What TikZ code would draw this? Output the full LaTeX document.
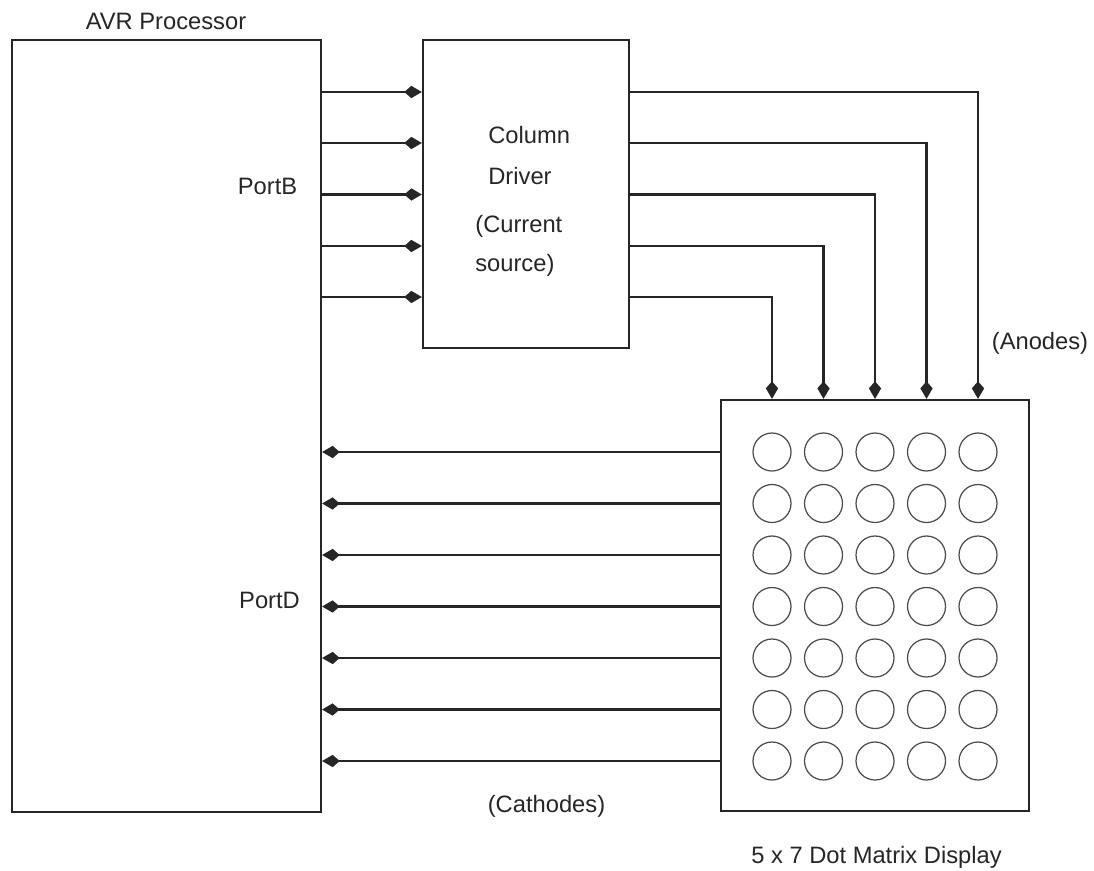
\documentclass[tikz,border=0pt]{standalone}
\usepackage{fontspec}
\setmainfont{Liberation Sans}
\usetikzlibrary{arrows.meta,positioning,calc}
\tikzset{
  blk/.style={draw=black!85, line width=1.3pt, rectangle, inner sep=0pt},
  wire/.style={-{Kite[length=10pt,width=7pt,inset=4pt]}, line width=1.3pt, color=black!85},
  dot/.style={draw=black!70, circle, minimum size=0.76cm, inner sep=0pt, line width=0.7pt},
  note/.style={font=\fontsize{13.5}{16}\selectfont, text=black!85},
}
\begin{document}
\begin{tikzpicture}[x=0.02cm,y=-0.02cm]
  \useasboundingbox (0,0) rectangle (1094,871);
  % blocks
  \node[blk, minimum width=6.18cm, minimum height=15.44cm] (avr) at (166.5,426) {};
  \node[blk, minimum width=4.12cm, minimum height=6.16cm] (drv) at (526,194) {};
  \node[blk, minimum width=6.16cm, minimum height=8.22cm] (disp) at (875,605.5) {};
  % rows and columns
  \foreach \i/\y in {1/92,2/143,3/194.5,4/246,5/297}
    \coordinate (r\i) at (0,\y);
  \foreach \c/\x in {1/772,2/823.5,3/875,4/926.5,5/978}
    \coordinate (c\c) at (\x,0);
  \foreach \k/\y in {1/452,2/503.5,3/555,4/606.5,5/658,6/709.5,7/761}
    \coordinate (k\k) at (0,\y);
  % LED matrix
  \foreach \c in {1,...,5}
    \foreach \k in {1,...,7}
      \node[dot] (d\c\k) at (c\c |- k\k) {};
  % PortB -> driver -> anodes
  \foreach \i in {1,...,5} {
    \pgfmathtruncatemacro{\col}{6-\i}
    \draw[wire] (avr.east |- r\i) -- (drv.west |- r\i);
    \draw[wire] (drv.east |- r\i) -| (disp.north -| c\col);
  }
  % cathodes -> PortD
  \foreach \k in {1,...,7}
    \draw[wire] (disp.west |- k\k) -- (avr.east |- k\k);
  % labels
  \node[note] (avrlbl) at (166,21) {AVR Processor};
  \node[note] (portb) at (267.5,186) {PortB};
  \node[note] (portd) at (269.5,600) {PortD};
  \node[note, anchor=west, inner sep=0pt] (col) at (488,135) {Column};
  \node[note, anchor=west, inner sep=0pt] (drvlbl) at (488,176) {Driver};
  \node[note, anchor=west, inner sep=0pt] (cur) at (475,226) {(Current};
  \node[note, anchor=west, inner sep=0pt] (src) at (475,265) {source)};
  \node[note] (anodes) at (1040,343) {(Anodes)};
  \node[note] (cathodes) at (546.5,806) {(Cathodes)};
  \node[note] (displbl) at (876.5,857) {5 x 7 Dot Matrix Display};
\end{tikzpicture}
\end{document}
